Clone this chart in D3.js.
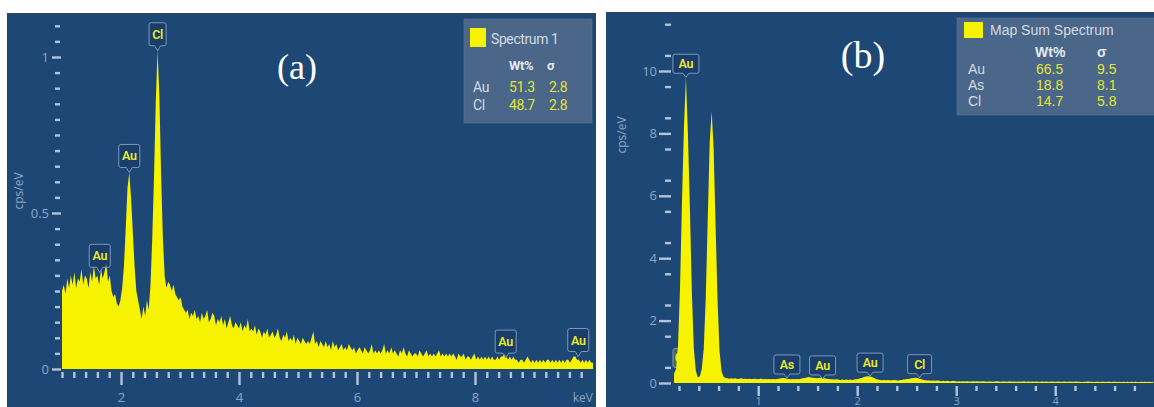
<!DOCTYPE html>
<html>
<head>
<meta charset="utf-8">
<script src="https://cdn.jsdelivr.net/npm/d3@7"></script>
<style>
  html, body { margin: 0; padding: 0; background: #ffffff; }
  svg { display: block; }
  .tick-label { font-family: "Open Sans", "DejaVu Sans", sans-serif; fill: #8ea6c3; }
  .narrow { font-family: Roboto, "Liberation Sans", sans-serif; letter-spacing: -0.4px; }
</style>
</head>
<body>
<svg id="chart" width="1154" height="407"></svg>
<script>
// ---------- Spectrum 1 (panel a): channel start/width in keV and counts (cps/eV)
const specA_start = 1.00;
const specA_step = 0.03;
const specA_cps = [
  0.25, 0.27, 0.24, 0.29, 0.26, 0.30, 0.27, 0.31, 0.26, 0.29,
  0.28, 0.32, 0.27, 0.30, 0.29, 0.26, 0.31, 0.28, 0.33, 0.29,
  0.30, 0.27, 0.32, 0.29, 0.31, 0.34, 0.28, 0.30, 0.25, 0.23,
  0.24, 0.21, 0.20, 0.22, 0.26, 0.33, 0.45, 0.58, 0.63, 0.55,
  0.44, 0.33, 0.25, 0.22, 0.19, 0.16, 0.20, 0.17, 0.22, 0.19,
  0.27, 0.42, 0.62, 0.86, 1.02, 0.88, 0.62, 0.42, 0.30, 0.26,
  0.28, 0.27, 0.25, 0.27, 0.24, 0.23, 0.22, 0.23, 0.20, 0.19,
  0.18, 0.19, 0.16, 0.18, 0.17, 0.19, 0.16, 0.17, 0.15, 0.18,
  0.16, 0.17, 0.19, 0.15, 0.16, 0.18, 0.17, 0.14, 0.16, 0.15,
  0.17, 0.14, 0.16, 0.13, 0.15, 0.17, 0.14, 0.13, 0.15, 0.14,
  0.13, 0.15, 0.12, 0.14, 0.13, 0.16, 0.12, 0.13, 0.12, 0.14,
  0.11, 0.13, 0.12, 0.10, 0.12, 0.11, 0.13, 0.10, 0.11, 0.12,
  0.10, 0.11, 0.13, 0.10, 0.09, 0.11, 0.10, 0.12, 0.09, 0.10,
  0.09, 0.11, 0.08, 0.10, 0.09, 0.08, 0.10, 0.09, 0.08, 0.09,
  0.08, 0.10, 0.12, 0.08, 0.09, 0.07, 0.09, 0.08, 0.07, 0.09,
  0.07, 0.08, 0.06, 0.09, 0.07, 0.08, 0.06, 0.07, 0.08, 0.06,
  0.07, 0.06, 0.08, 0.07, 0.06, 0.07, 0.05, 0.06, 0.07, 0.06,
  0.05, 0.07, 0.06, 0.05, 0.06, 0.08, 0.05, 0.06, 0.05, 0.06,
  0.05, 0.06, 0.08, 0.05, 0.06, 0.05, 0.07, 0.05, 0.06, 0.05,
  0.04, 0.06, 0.05, 0.07, 0.05, 0.04, 0.06, 0.05, 0.04, 0.05,
  0.05, 0.04, 0.06, 0.05, 0.04, 0.05, 0.06, 0.04, 0.05, 0.04,
  0.05, 0.04, 0.05, 0.06, 0.04, 0.05, 0.04, 0.05, 0.04, 0.05,
  0.04, 0.05, 0.04, 0.03, 0.05, 0.04, 0.04, 0.05, 0.03, 0.04,
  0.04, 0.03, 0.04, 0.05, 0.03, 0.04, 0.03, 0.04, 0.03, 0.04,
  0.03, 0.04, 0.03, 0.04, 0.03, 0.03, 0.04, 0.03, 0.04, 0.04,
  0.05, 0.04, 0.03, 0.04, 0.03, 0.04, 0.03, 0.03, 0.02, 0.03,
  0.03, 0.02, 0.03, 0.04, 0.03, 0.02, 0.03, 0.02, 0.03, 0.02,
  0.03, 0.02, 0.03, 0.02, 0.03, 0.03, 0.02, 0.03, 0.02, 0.03,
  0.02, 0.03, 0.02, 0.03, 0.02, 0.03, 0.03, 0.02, 0.03, 0.04,
  0.04, 0.03, 0.03, 0.02, 0.03, 0.02, 0.03, 0.02, 0.03, 0.02,
  0.02
];
const peaksA = [
  { el: "Au", keV: 1.64, cps: 0.31 },
  { el: "Au", keV: 2.14, cps: 0.63 },
  { el: "Cl", keV: 2.62, cps: 1.02 },
  { el: "Au", keV: 8.52, cps: 0.035 },
  { el: "Au", keV: 9.75, cps: 0.04 }
];
const quantA_title = "Spectrum 1";
const quantA_elements = ["Au", "Cl"];
const quantA_wt = ["51.3", "48.7"];
const quantA_sigma = ["2.8", "2.8"];

// ---------- Map Sum Spectrum (panel b)
const specB_start = 0.15;
const specB_step = 0.02;
const specB_cps = [
  0.30, 0.45, 1.2, 3.0, 5.8, 8.2, 9.8, 8.0, 5.6, 2.9,
  1.1, 0.40, 0.18, 0.22, 0.45, 1.1, 2.7, 5.2, 7.7, 8.7,
  7.5, 5.0, 2.6, 1.0, 0.38, 0.20, 0.16, 0.15, 0.14, 0.15,
  0.14, 0.15, 0.13, 0.14, 0.15, 0.13, 0.14, 0.13, 0.14, 0.13,
  0.13, 0.14, 0.12, 0.13, 0.14, 0.12, 0.13, 0.12, 0.13, 0.12,
  0.13, 0.12, 0.13, 0.14, 0.15, 0.16, 0.15, 0.14, 0.13, 0.12,
  0.13, 0.12, 0.13, 0.12, 0.14, 0.15, 0.16, 0.18, 0.19, 0.18,
  0.17, 0.16, 0.15, 0.16, 0.17, 0.16, 0.15, 0.14, 0.13, 0.12,
  0.12, 0.11, 0.12, 0.11, 0.10, 0.11, 0.10, 0.11, 0.10, 0.11,
  0.10, 0.11, 0.12, 0.13, 0.15, 0.17, 0.19, 0.21, 0.22, 0.21,
  0.19, 0.16, 0.13, 0.11, 0.10, 0.09, 0.10, 0.09, 0.10, 0.09,
  0.09, 0.10, 0.09, 0.08, 0.09, 0.10, 0.11, 0.12, 0.13, 0.14,
  0.15, 0.16, 0.17, 0.16, 0.14, 0.12, 0.10, 0.09, 0.08, 0.08,
  0.07, 0.08, 0.07, 0.08, 0.07, 0.06, 0.07, 0.06, 0.07, 0.06,
  0.06, 0.07, 0.06, 0.05, 0.06, 0.05, 0.06, 0.05, 0.06, 0.05,
  0.05, 0.06, 0.05, 0.06, 0.05, 0.05, 0.06, 0.05, 0.04, 0.05,
  0.05, 0.04, 0.05, 0.06, 0.05, 0.04, 0.05, 0.05, 0.04, 0.05,
  0.05, 0.04, 0.05, 0.04, 0.05, 0.04, 0.05, 0.05, 0.04, 0.05,
  0.04, 0.05, 0.04, 0.05, 0.04, 0.04, 0.05, 0.04, 0.05, 0.04,
  0.04, 0.05, 0.04, 0.04, 0.05, 0.04, 0.04, 0.05, 0.04, 0.04,
  0.05, 0.04, 0.04, 0.05, 0.04, 0.04, 0.03, 0.04, 0.04, 0.05,
  0.04, 0.04, 0.03, 0.04, 0.04, 0.03, 0.04, 0.04, 0.03, 0.04,
  0.04, 0.03, 0.04, 0.04, 0.03, 0.04, 0.03, 0.04, 0.03, 0.04,
  0.03, 0.04, 0.03, 0.04, 0.03, 0.03, 0.04, 0.03, 0.04, 0.03,
  0.04, 0.03, 0.04
];
const peaksB = [
  { el: "Au", keV: 0.27, cps: 9.8 },
  { el: "As", keV: 1.29, cps: 0.16 },
  { el: "Au", keV: 1.65, cps: 0.13 },
  { el: "Au", keV: 2.13, cps: 0.22 },
  { el: "Cl", keV: 2.63, cps: 0.17 }
];
const hiddenPeakB = { el: "Cl", keV: 0.21, cps: 0.4 };
const quantB_title = "Map Sum Spectrum";
const quantB_elements = ["Au", "As", "Cl"];
const quantB_wt = ["66.5", "18.8", "14.7"];
const quantB_sigma = ["9.5", "8.1", "5.8"];

// ---------- drawing
const BG = "#1d4876";
const YELLOW = "#f7f300";
const TICK = "#b3c3d8";
const svg = d3.select("#chart");

function toPoints(start, step, values) {
  return values.map((v, i) => ({ e: start + step * i, v }));
}

function axisStyle(g) {
  g.select(".domain").remove();
  g.selectAll(".tick line").attr("stroke", TICK).attr("stroke-width", 2.4);
  g.selectAll(".tick text").attr("class", "tick-label").attr("fill", "#8ea6c3");
}

function tag(g, x, yTip, label, w, h, ptr, fs, boxFill) {
  const x0 = x - w / 2, x1 = x + w / 2, yb = yTip - ptr, yt = yb - h, r = 2;
  const p = d3.path();
  p.moveTo(x0 + r, yt);
  p.lineTo(x1 - r, yt); p.quadraticCurveTo(x1, yt, x1, yt + r);
  p.lineTo(x1, yb - r); p.quadraticCurveTo(x1, yb, x1 - r, yb);
  p.lineTo(x + 3, yb); p.lineTo(x, yTip); p.lineTo(x - 3, yb);
  p.lineTo(x0 + r, yb); p.quadraticCurveTo(x0, yb, x0, yb - r);
  p.lineTo(x0, yt + r); p.quadraticCurveTo(x0, yt, x0 + r, yt);
  p.closePath();
  g.append("path").attr("d", p.toString())
    .attr("fill", boxFill).attr("stroke", "#7f98b8").attr("stroke-width", 1);
  g.append("text").attr("x", x).attr("y", yt + h / 2 + fs * 0.36)
    .attr("text-anchor", "middle").attr("fill", "#e9ec2c")
    .attr("font-size", fs).attr("font-weight", 600)
    .attr("font-family", "Roboto, 'Liberation Sans', sans-serif")
    .attr("letter-spacing", -0.3)
    .text(label);
}

// ===== Panel (a)
(function () {
  const g = svg.append("g");
  g.append("rect").attr("x", 7).attr("y", 13).attr("width", 589).attr("height", 394).attr("fill", BG);
  g.append("line").attr("x1", 7).attr("x2", 596).attr("y1", 13.5).attr("y2", 13.5).attr("stroke", "#3b4350").attr("stroke-width", 1);

  const x = d3.scaleLinear().domain([1, 10]).range([62, 593]);
  const y = d3.scaleLinear().domain([0, 1]).range([369, 57]);
  const pts = toPoints(specA_start, specA_step, specA_cps);

  // y axis
  const yMinor = d3.range(0, 1.1001, 0.05).filter(v => Math.abs(v % 0.5) > 1e-6 && Math.abs(v % 0.5 - 0.5) > 1e-6);
  g.append("g").attr("transform", "translate(60,0)")
    .call(d3.axisLeft(y).tickValues(yMinor).tickSize(5).tickFormat(""))
    .call(axisStyle);
  g.append("g").attr("transform", "translate(61,0)")
    .call(d3.axisLeft(y).tickValues([0, 0.5, 1]).tickSize(9).tickPadding(3).tickFormat(d3.format("")))
    .call(axisStyle)
    .call(s => s.selectAll("text").attr("font-size", 13));

  // x axis
  const xMinor = d3.range(1, 10.001, 0.2).filter(v => Math.abs(v - Math.round(v / 2) * 2) > 1e-6);
  g.append("g").attr("transform", "translate(0,372)")
    .call(d3.axisBottom(x).tickValues(xMinor).tickSize(6).tickFormat(""))
    .call(axisStyle);
  g.append("g").attr("transform", "translate(0,372)")
    .call(d3.axisBottom(x).tickValues([2, 4, 6, 8]).tickSize(13).tickFormat(d3.format("")))
    .call(axisStyle)
    .call(s => s.selectAll("text").attr("font-size", 13).attr("y", 21));
  g.append("text").attr("class", "tick-label").attr("x", 593).attr("y", 402)
    .attr("text-anchor", "end").attr("font-size", 12).text("keV");

  g.append("text").attr("class", "tick-label").attr("font-size", 12)
    .attr("transform", "translate(23,191) rotate(-90)").attr("text-anchor", "middle").text("cps/eV");

  // spectrum
  g.append("path").datum(pts)
    .attr("d", d3.area().x(d => x(d.e)).y0(y(0)).y1(d => y(d.v)))
    .attr("fill", YELLOW);

  // element tags
  peaksA.forEach(p => {
    const w = p.el === "Cl" ? 17 : 21;
    tag(g, x(p.keV), y(p.cps), p.el, w, 23, 5, 12.5, "rgba(24,56,96,0.6)");
  });

  // quant table
  const L = g.append("g");
  L.append("rect").attr("x", 464).attr("y", 19).attr("width", 128).attr("height", 104)
    .attr("fill", "#4a6688").attr("stroke", "#5a7597").attr("stroke-width", 0.6);
  L.append("rect").attr("x", 470).attr("y", 28).attr("width", 16).attr("height", 19).attr("fill", YELLOW);
  L.append("text").attr("class", "narrow").attr("x", 491).attr("y", 44).attr("font-size", 14)
    .attr("fill", "#d3dbe6").text(quantA_title);
  L.append("text").attr("class", "narrow").attr("x", 509).attr("y", 70).attr("font-size", 13)
    .attr("font-weight", "bold").attr("fill", "#e4e9f0").text("Wt%");
  L.append("text").attr("class", "narrow").attr("x", 547).attr("y", 70).attr("font-size", 13)
    .attr("font-weight", "bold").attr("fill", "#e4e9f0").text("σ");
  quantA_elements.forEach((el, i) => {
    const yy = 92 + i * 18;
    L.append("text").attr("class", "narrow").attr("x", 473).attr("y", yy).attr("font-size", 14).attr("fill", "#d3dbe6").text(el);
    L.append("text").attr("class", "narrow").attr("x", 509).attr("y", yy).attr("font-size", 14).attr("fill", "#e2e53a").text(quantA_wt[i]);
    L.append("text").attr("class", "narrow").attr("x", 549).attr("y", yy).attr("font-size", 14).attr("fill", "#e2e53a").text(quantA_sigma[i]);
  });

  g.append("text").attr("x", 297).attr("y", 79).attr("text-anchor", "middle")
    .attr("font-family", "'Liberation Serif','Times New Roman',serif").attr("font-size", 36)
    .attr("fill", "#ffffff").text("(a)");
})();

// ===== Panel (b)
(function () {
  const g = svg.append("g");
  g.append("rect").attr("x", 606).attr("y", 12).attr("width", 548).attr("height", 395).attr("fill", BG);
  g.append("line").attr("x1", 606).attr("x2", 1154).attr("y1", 12.5).attr("y2", 12.5).attr("stroke", "#3b4350").attr("stroke-width", 1);

  const x = d3.scaleLinear().domain([0.2, 5]).range([679, 1154.2]);
  const y = d3.scaleLinear().domain([0, 10]).range([383, 71]);
  const pts = toPoints(specB_start, specB_step, specB_cps);

  const yMinor = d3.range(0.5, 11.501, 1);
  g.append("g").attr("transform", "translate(671,0)")
    .call(d3.axisLeft(y).tickValues(yMinor).tickSize(6).tickFormat(""))
    .call(axisStyle);
  g.append("g").attr("transform", "translate(671,0)")
    .call(d3.axisLeft(y).tickValues([0, 2, 4, 6, 8, 10]).tickSize(12).tickPadding(2).tickFormat(d3.format("")))
    .call(axisStyle)
    .call(s => s.selectAll("text").attr("font-size", 13));

  const xMinor = d3.range(0.2, 5.001, 0.2).filter(v => Math.abs(v - Math.round(v)) > 1e-6);
  g.append("g").attr("transform", "translate(0,386)")
    .call(d3.axisBottom(x).tickValues(xMinor).tickSize(5).tickFormat(""))
    .call(axisStyle);
  g.append("g").attr("transform", "translate(0,386)")
    .call(d3.axisBottom(x).tickValues([1, 2, 3, 4]).tickSize(10).tickFormat(d3.format("")))
    .call(axisStyle)
    .call(s => s.selectAll("text").attr("font-size", 11).attr("y", 11));

  g.append("text").attr("class", "tick-label").attr("font-size", 12)
    .attr("transform", "translate(626,135) rotate(-90)").attr("text-anchor", "middle").text("cps/eV");

  // Cl L tag sits beneath the Au M peak
  tag(g, x(hiddenPeakB.keV), y(hiddenPeakB.cps), hiddenPeakB.el, 14, 19, 3, 12, "rgba(120,130,60,0.55)");

  g.append("path").datum(pts)
    .attr("d", d3.area().x(d => x(d.e)).y0(y(0)).y1(d => y(d.v)))
    .attr("fill", YELLOW);

  peaksB.forEach(p => {
    tag(g, x(p.keV), y(p.cps), p.el, p.el === "Cl" ? 24 : 26, 19, 4, 12.5, "rgba(24,56,96,0.6)");
  });

  const FONT_B = "'Liberation Sans','Open Sans',sans-serif";
  const L = g.append("g");
  L.append("rect").attr("x", 957).attr("y", 18).attr("width", 200).attr("height", 97)
    .attr("fill", "#4a6688").attr("stroke", "#5a7597").attr("stroke-width", 0.6);
  L.append("rect").attr("x", 964).attr("y", 22).attr("width", 19).attr("height", 16).attr("fill", YELLOW);
  L.append("text").attr("x", 990).attr("y", 35).attr("font-size", 14)
    .attr("font-family", FONT_B).attr("fill", "#d3dbe6").text(quantB_title);
  L.append("text").attr("x", 1035).attr("y", 57).attr("font-size", 14).attr("font-weight", "bold")
    .attr("font-family", FONT_B).attr("fill", "#e4e9f0").text("Wt%");
  L.append("text").attr("x", 1097).attr("y", 57).attr("font-size", 14).attr("font-weight", "bold")
    .attr("font-family", FONT_B).attr("fill", "#e4e9f0").text("σ");
  quantB_elements.forEach((el, i) => {
    const yy = 74 + i * 16;
    L.append("text").attr("x", 968).attr("y", yy).attr("font-size", 14)
      .attr("font-family", FONT_B).attr("fill", "#d3dbe6").text(el);
    L.append("text").attr("x", 1036).attr("y", yy).attr("font-size", 14)
      .attr("font-family", FONT_B).attr("fill", "#e2e53a").text(quantB_wt[i]);
    L.append("text").attr("x", 1097).attr("y", yy).attr("font-size", 14)
      .attr("font-family", FONT_B).attr("fill", "#e2e53a").text(quantB_sigma[i]);
  });

  g.append("text").attr("x", 863).attr("y", 68).attr("text-anchor", "middle")
    .attr("font-family", "'Liberation Serif','Times New Roman',serif").attr("font-size", 38)
    .attr("fill", "#ffffff").text("(b)");
})();
</script>
</body>
</html>
